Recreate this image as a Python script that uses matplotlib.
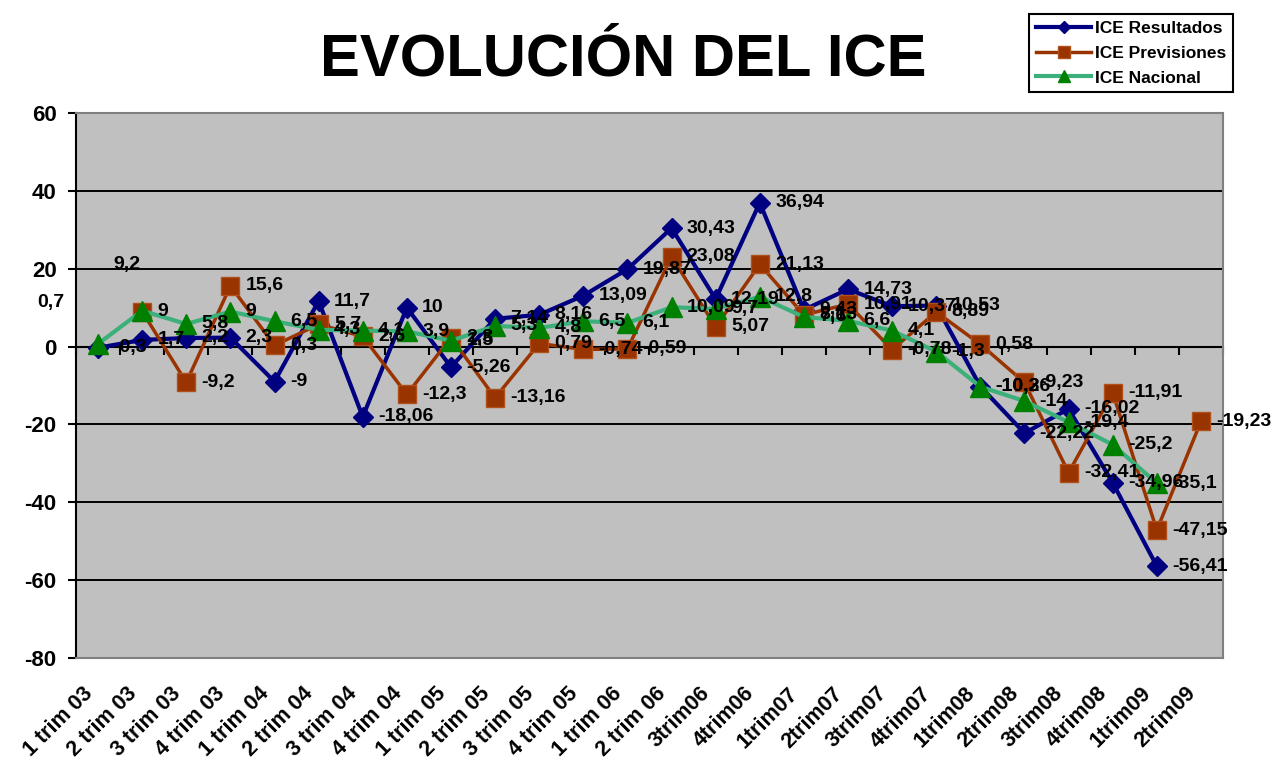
import numpy as np
import matplotlib
matplotlib.use('Agg')
import matplotlib.pyplot as plt
from matplotlib.transforms import ScaledTranslation

plt.rcParams['font.family'] = ['Liberation Sans', 'DejaVu Sans']
plt.rcParams['font.weight'] = 'bold'
plt.rcParams['axes.unicode_minus'] = False

# datos
periodos = ['1 trim 03', '2 trim 03', '3 trim 03', '4 trim 03',
            '1 trim 04', '2 trim 04', '3 trim 04', '4 trim 04',
            '1 trim 05', '2 trim 05', '3 trim 05', '4 trim 05',
            '1 trim 06', '2 trim 06', '3trim06', '4trim06',
            '1trim07', '2trim07', '3trim07', '4trim07',
            '1trim08', '2trim08', '3trim08', '4trim08',
            '1trim09', '2trim09']
resultados = [-0.3, 1.7, 2.2, 2.3, -9, 11.7, -18.06, 10, -5.26, 7.14, 8.16, 13.09,
              19.87, 30.43, 12.19, 36.94, 9.43, 14.73, 10.37, 10.53, -10.26, -22.22,
              -16.02, -34.96, -56.41, np.nan]
previsiones = [np.nan, 9, -9.2, 15.6, 0.3, 5.7, 2.6, -12.3, 2.3, -13.16, 0.79, -0.74,
               -0.59, 23.08, 5.07, 21.13, 8.13, 10.91, -0.78, 8.89, 0.58, -9.23,
               -32.41, -11.91, -47.15, -19.23]
nacional = [0.7, 9.2, 5.8, 9, 6.5, 4.3, 4.1, 3.9, 1.5, 5.3, 4.8, 6.5,
            6.1, 10.09, 9.7, 12.8, 7.6, 6.6, 4.1, -1.3, -10.3, -14,
            -19.4, -25.2, -35.1, np.nan]
y_ticks = [-80, -60, -40, -20, 0, 20, 40, 60]

fig = plt.figure(figsize=(12.86, 7.67), dpi=100)
ax = fig.add_axes([0.0591, 0.1421, 0.8919, 0.7106])
ax.set_facecolor('#C0C0C0')

x = np.arange(len(periodos))
l1, = ax.plot(x, resultados, color='#000080', lw=3, marker='D', ms=10,
              mfc='#000080', mec='#000080', label='ICE Resultados', zorder=3)
l2, = ax.plot(x, previsiones, color='#993300', lw=2.5, marker='s', ms=13.5,
              mfc='#993300', mec='#B0501A', label='ICE Previsiones', zorder=3)
l3, = ax.plot(x, nacional, color='#3CB07A', lw=3, marker='^', ms=14,
              mfc='#008000', mec='#008000', label='ICE Nacional', zorder=3)

def fmt(v):
    return f'{v:g}'.replace('.', ',')

# etiquetas de datos a la derecha de cada punto
for serie in (resultados, previsiones, nacional):
    for i, v in enumerate(serie):
        if np.isnan(v):
            continue
        off, ha = (11, 0), 'left'
        if serie is nacional and i == 0:
            off, ha = (-34, 30), 'center'
        if serie is nacional and i == 1:
            off, ha = (-11, 33), 'center'
        ax.annotate(fmt(v), (i, v), xytext=off, textcoords='offset points',
                    ha=ha, va='center', fontsize=14, fontweight='bold',
                    zorder=5, annotation_clip=False)

ax.set_xlim(-0.5, len(periodos) - 0.5)
ax.set_ylim(-80, 60)
ax.set_yticks(y_ticks)
ax.yaxis.grid(True, color='black', lw=1.4)
ax.set_axisbelow(True)
ax.tick_params(axis='y', labelsize=16, length=6, width=1.5, pad=8)
for lab in ax.get_yticklabels():
    lab.set_fontweight('bold')

ax.set_xticks(x)
ax.set_xticklabels(periodos, rotation=45, ha='right', va='top',
                   rotation_mode='anchor', fontsize=15.5, fontweight='bold')
ax.tick_params(axis='x', length=0, pad=18)
for lab in ax.get_xticklabels():
    lab.set_transform(lab.get_transform() + ScaledTranslation(-0.16, 0, fig.dpi_scale_trans))

for s in ('top', 'right', 'bottom'):
    ax.spines[s].set_color('#808080')
    ax.spines[s].set_linewidth(1.5)
ax.spines['left'].set_linewidth(1.5)

# eje de categorias en el cero con marcas entre categorias
sec = ax.secondary_xaxis(80 / 140)
sec.set_alignment('bottom')
sec.set_xticks(np.arange(-0.5, len(periodos), 1))
sec.tick_params(direction='out', length=6, width=1.5, labelbottom=False)
sec.spines['bottom'].set_linewidth(1.5)

fig.text(0.485, 0.902, 'EVOLUCIÓN DEL ICE', ha='center', va='baseline',
         fontsize=43, fontweight='bold')

leg = fig.legend(handles=[l1, l2, l3], loc='upper right',
                 bbox_to_anchor=(1233 / 1286, 1 - 14 / 767), borderaxespad=0,
                 fontsize=12.5, markerscale=0.6, handlelength=3.2,
                 handletextpad=0.2, labelspacing=0.55, borderpad=0.4,
                 fancybox=False, edgecolor='black', framealpha=1)
leg.get_frame().set_linewidth(1.5)
for t in leg.get_texts():
    t.set_fontweight('bold')

fig.savefig('out.png', dpi=100)
